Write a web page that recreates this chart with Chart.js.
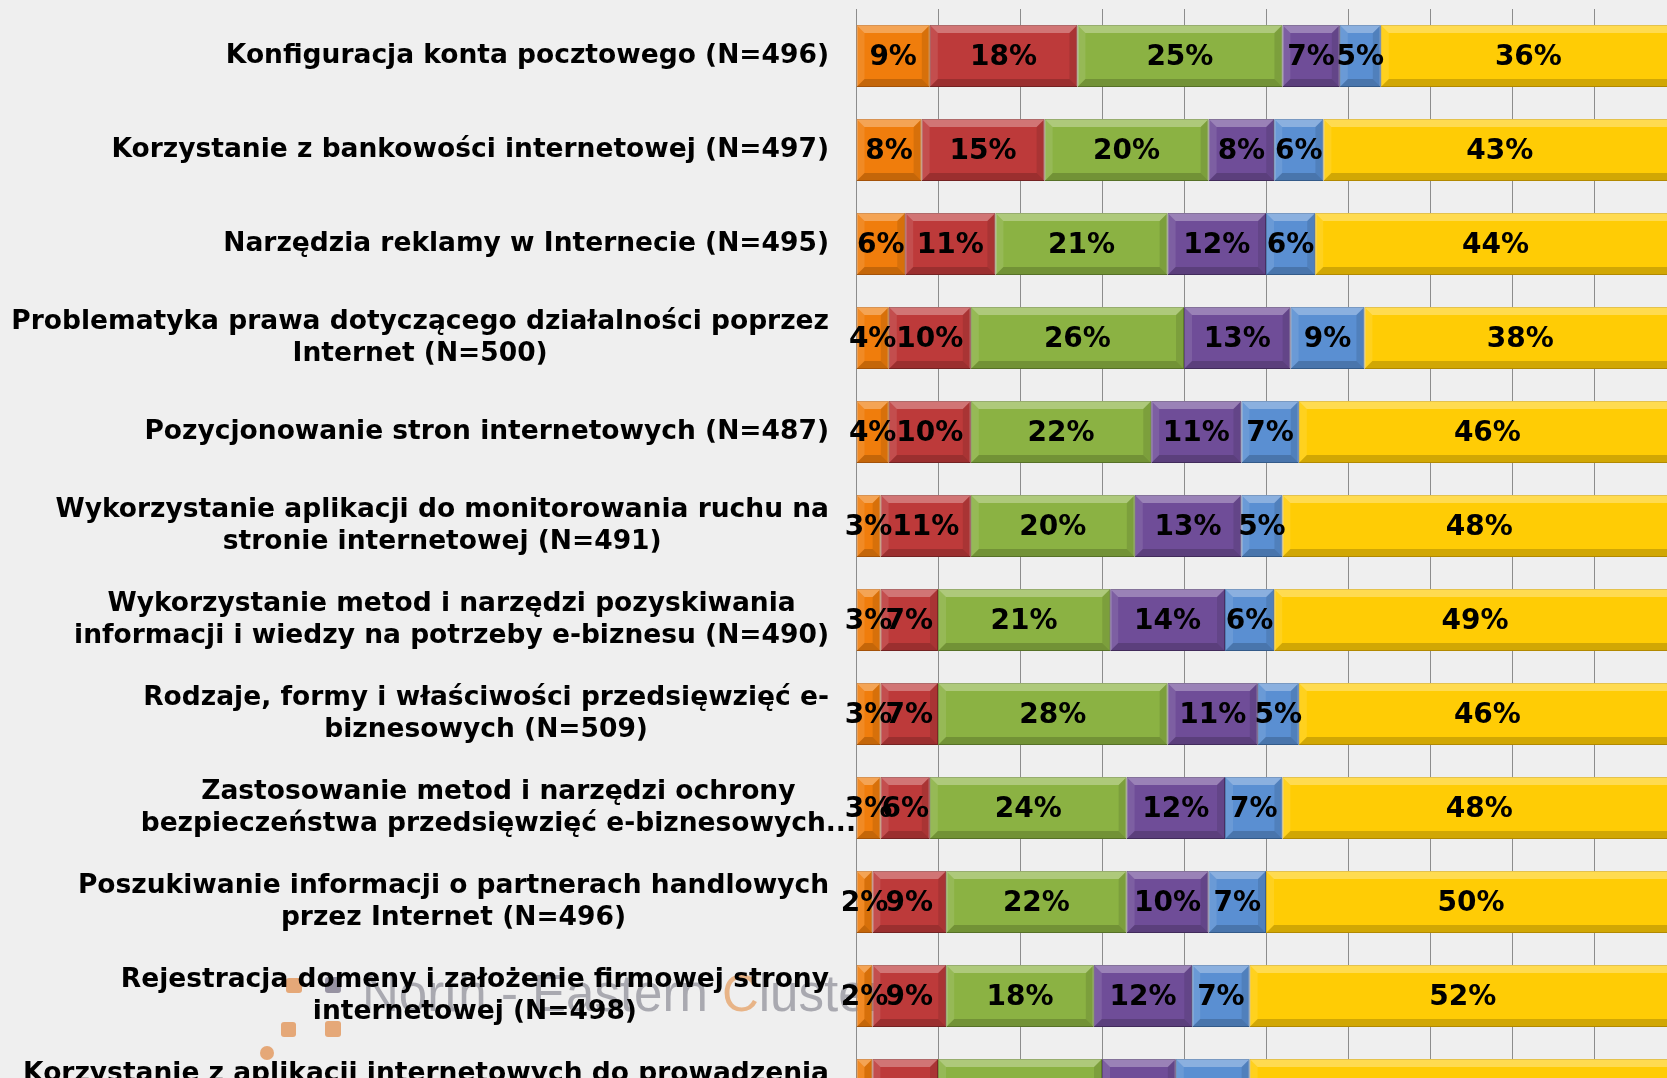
<!DOCTYPE html>
<html><head><meta charset="utf-8">
<script src="https://cdn.jsdelivr.net/npm/chart.js@4/dist/chart.umd.min.js"></script>
<style>
html,body{margin:0;padding:0;background:#efefef;overflow:hidden;width:1667px;height:1078px}
#wrap{position:absolute;left:0;top:0;width:1700px;height:1150px}
</style></head><body>
<div id="wrap"><canvas id="c" width="1700" height="1150"></canvas></div>
<script>
const categories = [
  ["Konfiguracja konta pocztowego (N=496)"],
  ["Korzystanie z bankowości internetowej (N=497)"],
  ["Narzędzia reklamy w Internecie (N=495)"],
  ["Problematyka prawa dotyczącego działalności poprzez", "Internet (N=500)"],
  ["Pozycjonowanie stron internetowych (N=487)"],
  ["Wykorzystanie aplikacji do monitorowania ruchu na", "stronie internetowej (N=491)"],
  ["Wykorzystanie metod i narzędzi pozyskiwania", "informacji i wiedzy na potrzeby e-biznesu (N=490)"],
  ["Rodzaje, formy i właściwości przedsięwzięć e-", "biznesowych (N=509)"],
  ["Zastosowanie metod i narzędzi ochrony", "bezpieczeństwa przedsięwzięć e-biznesowych..."],
  ["Poszukiwanie informacji o partnerach handlowych", "przez Internet (N=496)"],
  ["Rejestracja domeny i założenie firmowej strony", "internetowej (N=498)"],
  ["Korzystanie z aplikacji internetowych do prowadzenia", ""]
];
const seriesNames = ["Seria 1", "Seria 2", "Seria 3", "Seria 4", "Seria 5", "Seria 6"];
const series1 = [9, 8, 6, 4, 4, 3, 3, 3, 3, 2, 2, 2];
const series2 = [18, 15, 11, 10, 10, 11, 7, 7, 6, 9, 9, 8];
const series3 = [25, 20, 21, 26, 22, 20, 21, 28, 24, 22, 18, 20];
const series4 = [7, 8, 12, 13, 11, 13, 14, 11, 12, 10, 12, 9];
const series5 = [5, 6, 6, 9, 7, 5, 6, 5, 7, 7, 7, 9];
const series6 = [36, 43, 44, 38, 46, 48, 49, 46, 48, 50, 52, 52];
const xTickValues = [0, 10, 20, 30, 40, 50, 60, 70, 80, 90, 100];
const seriesColors = ["#f07d0c", "#bd3a3a", "#8bb243", "#6f4d98", "#5a8fd2", "#ffcc05"];
const seriesBorders = ["#c8650a", "#8e2a2a", "#6a8a30", "#50356f", "#3f6ea8", "#d9a800"];

const allSeries = [series1, series2, series3, series4, series5, series6];

const watermarkPlugin = {
  id: 'watermark',
  beforeDatasetsDraw(chart) {
    const ctx = chart.ctx;
    ctx.save();
    ctx.fillStyle = 'rgba(226,150,90,0.8)';
    const sq = (x, y, w, h) => { ctx.beginPath(); ctx.roundRect(x, y, w, h, 3); ctx.fill(); };
    sq(286, 978, 16, 15);
    sq(281, 1022, 15, 15);
    sq(325, 1021, 16, 16);
    ctx.beginPath(); ctx.arc(267, 1053, 7, 0, Math.PI * 2); ctx.fill();
    ctx.fillStyle = 'rgba(120,115,135,0.75)';
    sq(325, 977, 16, 16);
    ctx.font = '51px "Liberation Sans"';
    ctx.textBaseline = 'alphabetic';
    ctx.textAlign = 'left';
    let x = 362;
    const y = 1011;
    const parts = [["North - Eastern ", 'rgba(140,140,150,0.7)'], ["C", 'rgba(230,160,100,0.75)'], ["luster", 'rgba(140,140,150,0.7)']];
    parts.forEach(([t, c]) => { ctx.fillStyle = c; ctx.fillText(t, x, y); x += ctx.measureText(t).width; });
    ctx.restore();
  }
};

const bevelPlugin = {
  id: 'bevel',
  afterDatasetsDraw(chart) {
    const ctx = chart.ctx;
    ctx.save();
    chart.data.datasets.forEach((ds, di) => {
      const meta = chart.getDatasetMeta(di);
      meta.data.forEach((el) => {
        const L = Math.min(el.x, el.base), R = Math.max(el.x, el.base);
        const T = el.y - el.height / 2, B = el.y + el.height / 2;
        const b = Math.min(8, (R - L) / 2);
        const poly = (pts, fill) => {
          ctx.beginPath(); ctx.moveTo(pts[0][0], pts[0][1]);
          for (let k = 1; k < pts.length; k++) ctx.lineTo(pts[k][0], pts[k][1]);
          ctx.closePath(); ctx.fillStyle = fill; ctx.fill();
        };
        poly([[L, T], [R, T], [R - b, T + b], [L + b, T + b]], 'rgba(255,255,255,0.30)');
        poly([[L, B], [R, B], [R - b, B - b], [L + b, B - b]], 'rgba(0,0,0,0.18)');
        poly([[L, T], [L + b, T + b], [L + b, B - b], [L, B]], 'rgba(255,255,255,0.10)');
        poly([[R, T], [R - b, T + b], [R - b, B - b], [R, B]], 'rgba(0,0,0,0.10)');
      });
    });
    ctx.restore();
  }
};

const valueLabelPlugin = {
  id: 'valueLabels',
  afterDatasetsDraw(chart) {
    const ctx = chart.ctx;
    ctx.save();
    ctx.font = 'bold 28px "DejaVu Sans"';
    ctx.fillStyle = '#000';
    ctx.textAlign = 'center';
    ctx.textBaseline = 'middle';
    chart.data.datasets.forEach((ds, di) => {
      const meta = chart.getDatasetMeta(di);
      meta.data.forEach((el, i) => {
        const cx = (el.x + el.base) / 2;
        ctx.fillText(ds.data[i] + '%', cx, el.y + 2);
      });
    });
    ctx.restore();
  }
};

const catLabelPlugin = {
  id: 'catLabels',
  afterDraw(chart) {
    const ctx = chart.ctx;
    const ys = chart.scales.y;
    const axisX = chart.scales.x.getPixelForValue(0);
    const right = axisX - 27;
    ctx.save();
    ctx.font = 'bold 26.5px "DejaVu Sans"';
    ctx.fillStyle = '#000';
    ctx.textAlign = 'center';
    ctx.textBaseline = 'middle';
    categories.forEach((lines, i) => {
      const yc = ys.getPixelForValue(i);
      const widths = lines.map(l => ctx.measureText(l).width);
      const tIdx = lines.findIndex(l => l.endsWith('...'));
      const cx = tIdx >= 0 ? axisX - widths[tIdx] / 2 : right - Math.max(...widths) / 2;
      const lh = 32;
      const y0 = yc - (lines.length - 1) * lh / 2;
      lines.forEach((l, k) => ctx.fillText(l, cx, y0 + k * lh));
    });
    ctx.restore();
  }
};

new Chart(document.getElementById('c'), {
  type: 'bar',
  data: {
    labels: categories,
    datasets: allSeries.map((s, i) => ({
      label: seriesNames[i],
      data: s,
      backgroundColor: seriesColors[i],
      borderColor: seriesBorders[i],
      borderWidth: 1,
      borderSkipped: false,
      categoryPercentage: 1,
      barPercentage: 0.66
    }))
  },
  options: {
    indexAxis: 'y',
    responsive: false,
    animation: false,
    layout: { padding: { left: 856, right: 24, top: 9, bottom: 13 } },
    plugins: { legend: { display: false }, tooltip: { enabled: false } },
    scales: {
      x: {
        stacked: true, min: 0, max: 100,
        afterBuildTicks: (scale) => { scale.ticks = xTickValues.map(v => ({ value: v })); },
        ticks: { display: false },
        grid: { color: '#8c8c8c', lineWidth: 1, drawTicks: false },
        border: { display: false }
      },
      y: { stacked: true, display: false }
    }
  },
  plugins: [watermarkPlugin, bevelPlugin, valueLabelPlugin, catLabelPlugin]
});
</script>
</body></html>
